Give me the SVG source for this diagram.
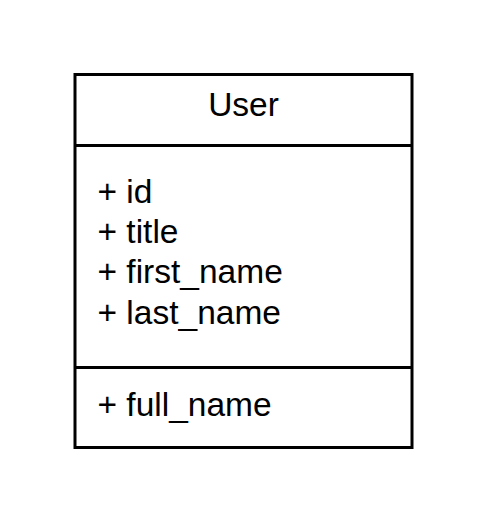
<svg xmlns="http://www.w3.org/2000/svg" width="488" height="525" viewBox="0 0 488 525">
<style>
.t{font-family:"Liberation Sans",Arial,sans-serif;font-size:33.5px;fill:#000}
.b{fill:#fff;stroke:#000;stroke-width:3}
.l{stroke:#000;stroke-width:3;fill:none}
</style>
<rect width="488" height="525" fill="#fff"/>
<g id="User">
<rect class="b" x="75" y="74.5" width="337" height="373"/>
<line class="l" x1="75" y1="145.5" x2="412" y2="145.5"/>
<line class="l" x1="75" y1="367.5" x2="412" y2="367.5"/>
<text class="t" x="243.5" y="116" text-anchor="middle">User</text>
<text class="t" x="97.5" y="203">+ id</text>
<text class="t" x="97.5" y="243">+ title</text>
<text class="t" x="97.5" y="283">+ first_name</text>
<text class="t" x="97.5" y="323.5">+ last_name</text>
<text class="t" x="97.5" y="415.5">+ full_name</text>
</g>
<g id="connectors"></g>
</svg>
